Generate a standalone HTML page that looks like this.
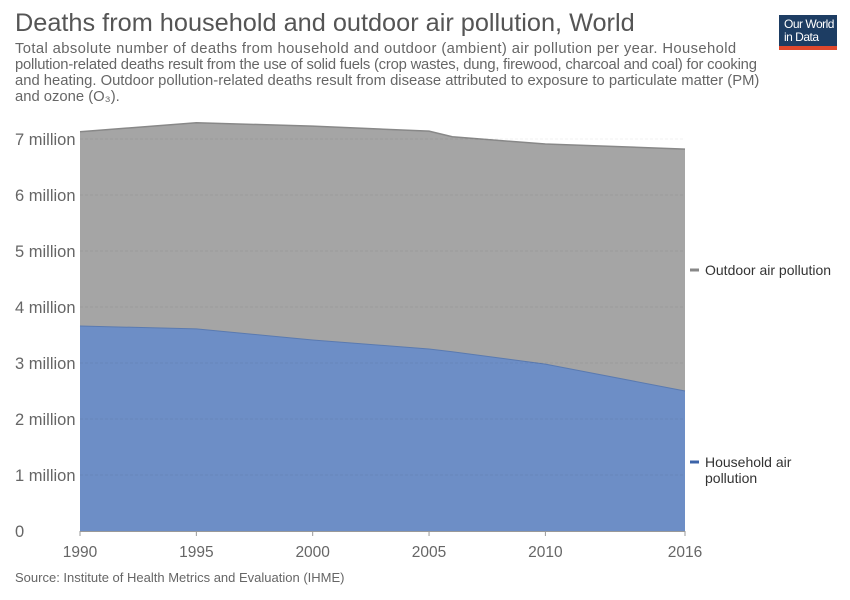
<!DOCTYPE html>
<html><head><meta charset="utf-8"><style>
body{margin:0;background:#fff;font-family:"Liberation Sans",sans-serif;}
#wrap{position:relative;width:850px;height:600px;overflow:hidden;}
.t{position:absolute;color:#555;}
</style></head><body>
<div id="wrap">
<div class="t" style="left:15px;top:9px;font-size:25.3px;color:#555;">Deaths from household and outdoor air pollution, World</div>
<div class="t" style="left:15px;top:41px;white-space:nowrap;font-size:14.8px;line-height:16px;color:#666;"><span style="letter-spacing:0.38px">Total absolute number of deaths from household and outdoor (ambient) air pollution per year. Household</span><br><span style="letter-spacing:-0.2px">pollution-related deaths result from the use of solid fuels (crop wastes, dung, firewood, charcoal and coal) for cooking</span><br>and heating. Outdoor pollution-related deaths result from disease attributed to exposure to particulate matter (PM)<br>and ozone (O₃).</div>
<div style="position:absolute;left:779px;top:15px;width:58px;height:35px;background:#1d3d63;border-bottom:4px solid #e0482c;color:#fff;font-size:12px;line-height:13px;padding:3px 0 0 5px;box-sizing:border-box;letter-spacing:-0.5px;">Our World<br>in Data</div>
<svg id="svg" width="850" height="600" style="position:absolute;left:0;top:0"></svg>
<div class="t" style="left:15px;top:570px;font-size:13px;color:#666;">Source: Institute of Health Metrics and Evaluation (IHME)</div>
</div>
<script>
const years=[1990,1995,2000,2005,2006,2010,2016];
const household=[3.66,3.61,3.41,3.25,3.2,2.98,2.5];
const outdoor=[3.47,3.68,3.82,3.89,3.84,3.93,4.32];
const yTicks=[0,1,2,3,4,5,6,7];
const yTickLabels=["0","1 million","2 million","3 million","4 million","5 million","6 million","7 million"];
const xTicks=[1990,1995,2000,2005,2010,2016];
const NS="http://www.w3.org/2000/svg";
const svg=document.getElementById('svg');
const x=v=>80+(v-1990)*(685-80)/26;
const y=v=>531-v*56;
function mk(t,a){const e=document.createElementNS(NS,t);for(const k in a)e.setAttribute(k,a[k]);svg.appendChild(e);return e;}
yTicks.forEach((v,i)=>{
 const t=mk('text',{x:15,y:y(v)+6,'font-size':16.5,fill:'#666'});t.textContent=yTickLabels[i];
 
 
});
const tot=years.map((yr,i)=>household[i]+outdoor[i]);
let hp=years.map((yr,i)=>x(yr)+','+y(household[i])).join(' ');
let tp=years.map((yr,i)=>x(yr)+','+y(tot[i])).join(' ');
const hRev=years.map((yr,i)=>x(yr)+','+y(household[i])).reverse().join(' ');
const oa=mk('polygon',{points:tp+' '+hRev,fill:'#a5a5a5'});


const ol=mk('polyline',{points:tp,fill:'none',stroke:'#888','stroke-width':1.5});


const ha=mk('polygon',{points:hp+' '+x(2016)+','+y(0)+' '+x(1990)+','+y(0),fill:'#6d8ec6'});


const hl=mk('polyline',{points:hp,fill:'none',stroke:'#5a7ab0','stroke-width':1});


yTicks.forEach(v=>{
 if(v>0){const g=mk('line',{x1:80,x2:685,y1:y(v),y2:y(v),stroke:'#000','stroke-opacity':0.06,'stroke-dasharray':'3,2'});
 
 }
});
const ax=mk('line',{x1:80,x2:685,y1:531.5,y2:531.5,stroke:'#999'});


xTicks.forEach(v=>{
 const tk=mk('line',{x1:x(v),x2:x(v),y1:531,y2:536,stroke:'#999'});
 
 
 const t=mk('text',{x:x(v),y:557,'font-size':15.5,fill:'#666','text-anchor':'middle'});t.textContent=v;
 
 
});
function legend(lines,color,yy,nm){
 const m=mk('line',{x1:690,x2:699,y1:yy,y2:yy,stroke:color,'stroke-width':3});
 
 
 lines.forEach((l,i)=>{const t=mk('text',{x:705,y:yy+5+i*16,'font-size':14,fill:'#333'});t.textContent=l;
 
 });
}
legend(['Outdoor air pollution'],'#888',270,'legend-outdoor');
legend(['Household air','pollution'],'#3c63a8',462,'legend-household');
</script>
</body></html>
